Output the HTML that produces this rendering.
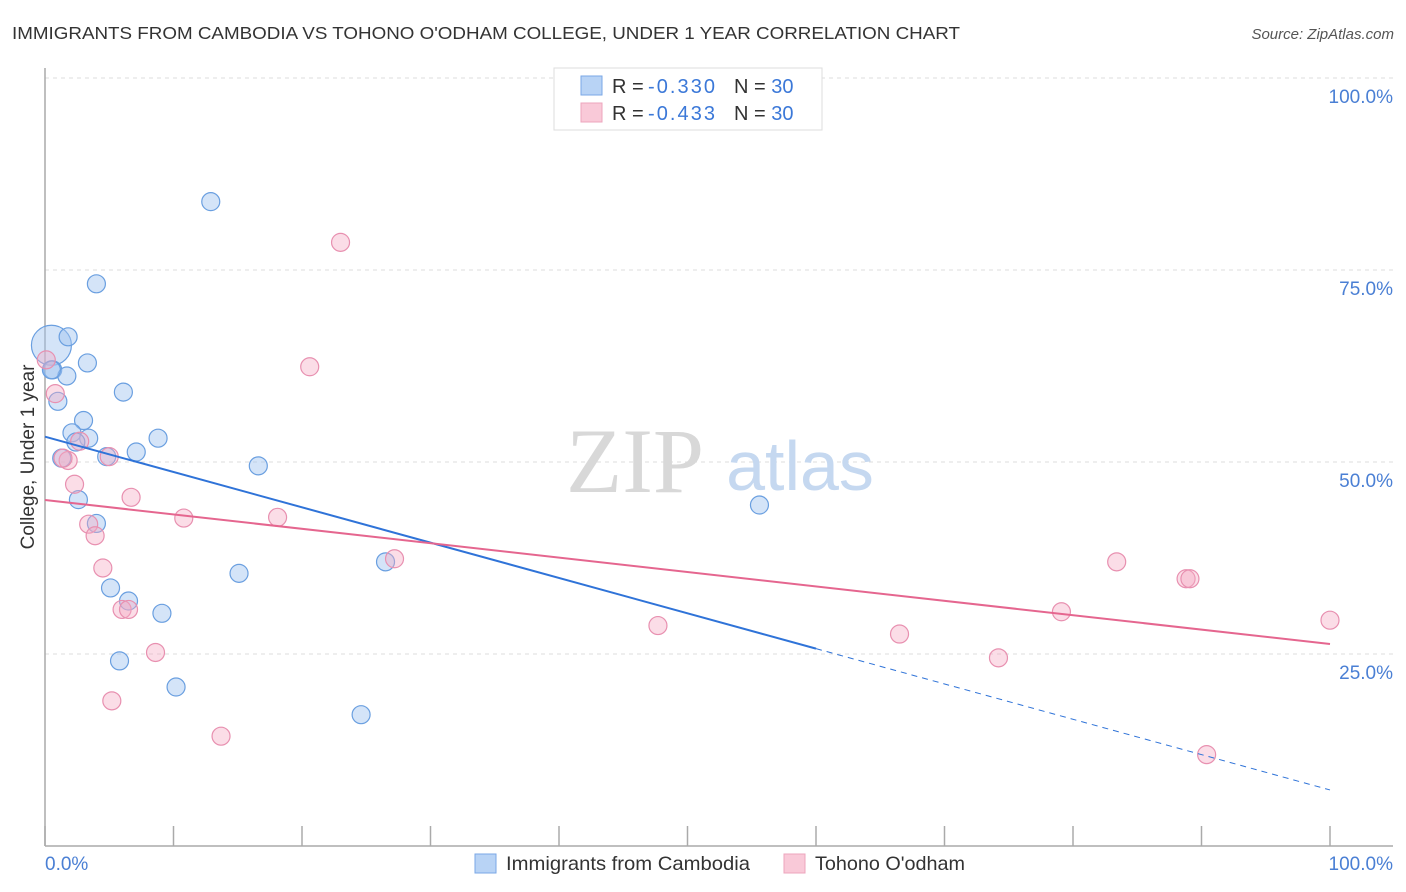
<!DOCTYPE html>
<html><head><meta charset="utf-8"><style>
body{margin:0;background:#fff;font-family:"Liberation Sans",sans-serif;}
svg{display:block}
</style></head><body>
<svg id="chart" width="1406" height="892" xmlns="http://www.w3.org/2000/svg">
<text x="12" y="39" font-size="17.5" fill="#333" textLength="948" lengthAdjust="spacingAndGlyphs">IMMIGRANTS FROM CAMBODIA VS TOHONO O'ODHAM COLLEGE, UNDER 1 YEAR CORRELATION CHART</text>
<text x="1394" y="39" font-size="15" fill="#555" font-style="italic" text-anchor="end">Source: ZipAtlas.com</text>
<g id="grid"></g>
<text x="635" y="492" font-size="92" fill="#d8d8d8" font-family="Liberation Serif,serif" text-anchor="middle">ZIP</text>
<text x="800" y="490" font-size="70" fill="#c5d8f0" text-anchor="middle">atlas</text>
<line x1="45" y1="68" x2="45" y2="846" stroke="#aaa" stroke-width="1.5"/>
<line x1="45" y1="846" x2="1393" y2="846" stroke="#aaa" stroke-width="1.5"/>
<g id="xticks"></g>
<text transform="translate(34,457) rotate(-90)" font-size="19" fill="#333" text-anchor="middle">College, Under 1 year</text>
<text x="45" y="870" font-size="19" fill="#4a7fd4">0.0%</text>
<text x="1393" y="870" font-size="19" fill="#4a7fd4" text-anchor="end">100.0%</text>
<g id="points"></g>
<g id="trends"></g>
<g>
<rect x="554" y="68" width="268" height="62" fill="#fff" stroke="#ddd"/>
<rect x="581" y="76" width="21" height="19" fill="#b8d3f5" stroke="#7aa7e6"/>
<rect x="581" y="103" width="21" height="19" fill="#f9c9d8" stroke="#eda5bd"/>
<text x="612" y="93" font-size="20" fill="#333">R = <tspan fill="#3b78d8" x="648" textLength="67">-0.330</tspan><tspan x="734">N = </tspan><tspan fill="#3b78d8">30</tspan></text>
<text x="612" y="120" font-size="20" fill="#333">R = <tspan fill="#3b78d8" x="648" textLength="67">-0.433</tspan><tspan x="734">N = </tspan><tspan fill="#3b78d8">30</tspan></text>
</g>
<g>
<rect x="475" y="854" width="21" height="19" fill="#b8d3f5" stroke="#7aa7e6"/>
<text x="506" y="870" font-size="19.5" fill="#333" textLength="244" lengthAdjust="spacingAndGlyphs">Immigrants from Cambodia</text>
<rect x="784" y="854" width="21" height="19" fill="#f9c9d8" stroke="#eda5bd"/>
<text x="815" y="870" font-size="19.5" fill="#333" textLength="150" lengthAdjust="spacingAndGlyphs">Tohono O'odham</text>
</g>
</svg>
<script>
const yTicks=[25,50,75,100];
const yTickLabels=["25.0%","50.0%","75.0%","100.0%"];
const xTicks=[0,10,20,30,40,50,60,70,80,90,100];
const blueX=[0.5,1.8,3.3,0.6,1.7,6.1,1.0,3.0,2.1,3.4,2.4,8.8,7.1,1.3,4.8,16.6,2.6,4.0,55.6,26.5,15.1,5.1,6.5,9.1,5.8,10.2,24.6,12.9,4.0,0.5];
const blueY=[65.2,66.3,62.9,62.0,61.2,59.1,57.9,55.4,53.8,53.1,52.6,53.1,51.3,50.5,50.7,49.5,45.1,42.0,44.4,37.0,35.5,33.6,31.9,30.3,24.1,20.7,17.1,83.9,73.2,62.0];
const pinkX=[0.1,23.0,20.6,0.8,2.7,1.8,1.4,5.0,6.7,2.3,10.8,18.1,3.4,3.9,4.5,27.2,6.0,6.5,47.7,8.6,66.5,5.2,13.7,74.2,79.1,83.4,88.8,89.1,100,90.4];
const pinkY=[63.3,78.6,62.4,58.9,52.7,50.2,50.5,50.7,45.4,47.1,42.7,42.8,41.9,40.4,36.2,37.4,30.8,30.8,28.7,25.2,27.6,18.9,14.3,24.5,30.5,37.0,34.8,34.8,29.4,11.9];
const blueTrend=[53.3,7.3];
const pinkTrend=[45.05,26.3];
const blueSolidEnd=60;
const X=v=>45+v*12.85, Y=v=>846-v*7.68;
const NS="http://www.w3.org/2000/svg";
function mk(t,a,p){const e=document.createElementNS(NS,t);for(const k in a)e.setAttribute(k,a[k]);p.appendChild(e);return e;}
const grid=document.getElementById('grid');
yTicks.forEach((t,i)=>{
 const l=mk('line',{x1:45,x2:1393,y1:Y(t),y2:Y(t),stroke:'#ddd','stroke-dasharray':'4,4'},grid);
 
 
 const tx=mk('text',{x:1393,y:Y(t)+25,'font-size':19,fill:'#4a7fd4','text-anchor':'end'},grid);
 tx.textContent=yTickLabels[i];
 
 
});
const xt=document.getElementById('xticks');
xTicks.forEach(t=>{
 const l=mk('line',{x1:X(t),x2:X(t),y1:826,y2:846,stroke:'#aaa','stroke-width':1.5},xt);
 
 
});
const pts=document.getElementById('points');
blueX.forEach((x,i)=>{
 const c=mk('circle',{cx:X(x),cy:Y(blueY[i]),r:i==0?20:9,fill:'rgba(160,196,240,0.45)',stroke:'#6a9fe0','stroke-width':1.2},pts);
 
 
});
pinkX.forEach((x,i)=>{
 const c=mk('circle',{cx:X(x),cy:Y(pinkY[i]),r:9,fill:'rgba(245,170,195,0.4)',stroke:'#e890b0','stroke-width':1.2},pts);
 
 
});
const tr=document.getElementById('trends');
const bAt=x=>blueTrend[0]+(blueTrend[1]-blueTrend[0])*x/100;
const b1=mk('line',{x1:X(0),y1:Y(bAt(0)),x2:X(blueSolidEnd),y2:Y(bAt(blueSolidEnd)),stroke:'#2f73d8','stroke-width':2},tr);


const b2=mk('line',{x1:X(blueSolidEnd),y1:Y(bAt(blueSolidEnd)),x2:X(100),y2:Y(bAt(100)),stroke:'#2f73d8','stroke-width':1,'stroke-dasharray':'6,5'},tr);


const p1=mk('line',{x1:X(0),y1:Y(pinkTrend[0]),x2:X(100),y2:Y(pinkTrend[1]),stroke:'#e5668f','stroke-width':2},tr);


</script>
</body></html>
